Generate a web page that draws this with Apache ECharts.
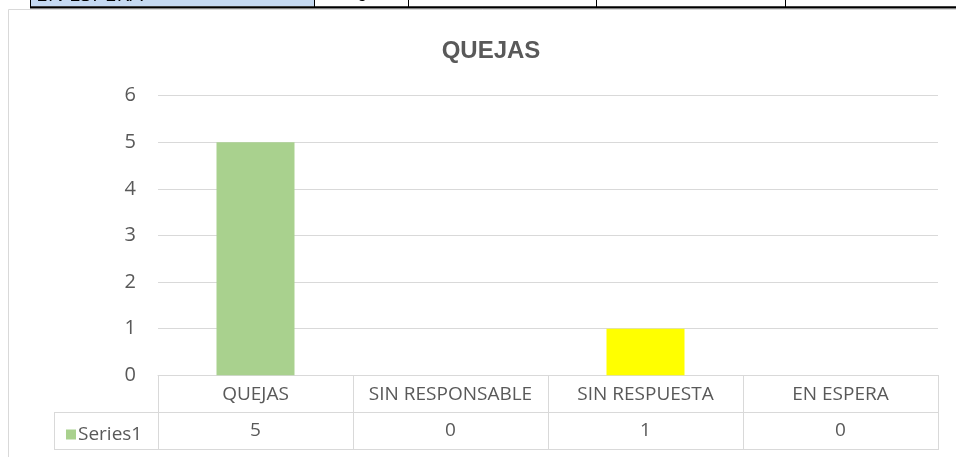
<!DOCTYPE html>
<html><head><meta charset="utf-8">
<script src="https://cdn.jsdelivr.net/npm/echarts@6/dist/echarts.min.js"></script>
<style>html,body{margin:0;padding:0;background:#fff}#c{width:956px;height:457px}</style>
</head><body><div id="c"></div>
<script>
const categories = ['QUEJAS', 'SIN RESPONSABLE', 'SIN RESPUESTA', 'EN ESPERA'];
const values = [5, 0, 1, 0];
const seriesName = 'Series1';
const yTicks = [0, 1, 2, 3, 4, 5, 6];
const topRowLabel = 'EN ESPERA';
const topRowValue = '0';

const barColors = ['#A9D18E', '#A9D18E', '#FFFF00', '#A9D18E'];
const txt = '#595959', line = '#D9D9D9', font = 'Open Sans';

const chart = echarts.init(document.getElementById('c'), null, {renderer: 'canvas'});
const gl = 158, gr = 938, gt = 95.7, gb = 375.3;
const L = (x1, y1, x2, y2, c, w) => ({type: 'line', silent: true, z: 100,
  shape: {x1, y1, x2, y2}, style: {stroke: c || line, lineWidth: w || 1}});

const graphic = [
  // top table fragment
  {type: 'rect', shape: {x: 30, y: 0, width: 284, height: 7}, style: {fill: '#C5D9F1'}},
  {type: 'text', x: 36, y: 6, style: {text: topRowLabel, font: '21px "Open Sans"', fill: '#000', textVerticalAlign: 'bottom'}},
  {type: 'text', x: 362, y: 6, style: {text: topRowValue, font: '21px "Open Sans"', fill: '#000', textAlign: 'center', textVerticalAlign: 'bottom'}},
  {type: 'rect', shape: {x: 0, y: 6.3, width: 956, height: 3.2}, style: {fill: '#fff'}},
  {type: 'rect', shape: {x: 30, y: 6.3, width: 926, height: 2.2}, style: {fill: '#000'}},
  L(30.5, 0, 30.5, 8, '#000'), L(314.5, 0, 314.5, 8, '#000'), L(408.5, 0, 408.5, 8, '#000'),
  L(596.5, 0, 596.5, 8, '#000'), L(785.5, 0, 785.5, 8, '#000'),
  // chart border
  {type: 'rect', silent: true, shape: {x: 8.5, y: 9.5, width: 980, height: 480}, style: {fill: null, stroke: line, lineWidth: 1}},
  // data table lines
  L(gl, 412.5, gr, 412.5), L(54, 412.5, gl, 412.5),
  L(54, 449.5, gr, 449.5),
  L(54.5, 412, 54.5, 450),
];
for (let i = 0; i <= categories.length; i++) {
  const x = Math.round(gl + (gr - gl) * i / categories.length) + 0.5;
  graphic.push(L(x, 375, x, 450));
}

chart.setOption({
  animation: false,
  title: {text: 'QUEJAS', left: 486, top: 34, textAlign: 'center',
    textStyle: {fontFamily: 'Liberation Sans', fontWeight: 'bold', fontSize: 24, color: txt}},
  legend: {left: 61, top: 420, itemWidth: 10, itemHeight: 10, itemGap: 4, icon: 'rect',
    textStyle: {fontFamily: font, fontSize: 19, color: txt, padding: [0, 0, 0, -3]}, data: [seriesName]},
  grid: {left: gl, right: 956 - gr, top: gt, bottom: 457 - gb, containLabel: false},
  xAxis: [
    {type: 'category', data: categories, position: 'bottom',
      axisLine: {show: true, lineStyle: {color: line}}, axisTick: {show: false},
      axisLabel: {interval: 0, hideOverlap: false, color: txt, fontFamily: font, fontSize: 19, margin: 19, verticalAlign: 'middle', lineHeight: 22}},
    {type: 'category', data: categories, position: 'bottom',
      axisLine: {show: false}, axisTick: {show: false},
      axisLabel: {interval: 0, hideOverlap: false, color: txt, fontFamily: font, fontSize: 19, margin: 55, verticalAlign: 'middle', lineHeight: 22,
        formatter: (v, i) => String(values[i])}}
  ],
  yAxis: {type: 'value', min: yTicks[0], max: yTicks[yTicks.length - 1], interval: 1,
    axisLine: {show: false}, axisTick: {show: false},
    axisLabel: {color: txt, fontFamily: font, fontSize: 20, margin: 22},
    splitLine: {lineStyle: {color: line}}},
  series: [{name: seriesName, type: 'bar', barWidth: '40%', xAxisIndex: 0,
    itemStyle: {color: barColors[0]},
    data: values.map((v, i) => ({value: v, itemStyle: {color: barColors[i]}}))}],
  graphic
});
</script></body></html>
